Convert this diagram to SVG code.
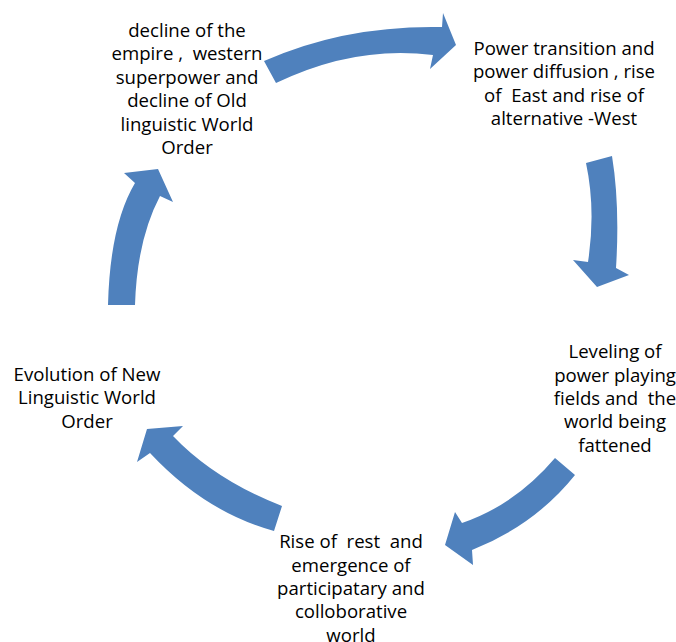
<svg xmlns="http://www.w3.org/2000/svg" width="676" height="642" viewBox="0 0 676 642">
<style>
.t{font-family:"Open Sans","Liberation Sans",sans-serif;font-size:18.6px;fill:#000;text-anchor:middle;white-space:pre}
.a{fill:#4F81BD;stroke:none}
</style>
<defs>
<clipPath id="clipTL"><rect x="0" y="0" width="263" height="642"/></clipPath>
</defs>
<rect width="676" height="642" fill="#fff"/>
<g id="connectors">
<path class="a" d="M 264 61 Q 345 25 442 27 L 443 13 L 456 45 L 430 69 L 433 55 Q 355 45 276 83 Z"/>
<path class="a" d="M 586 163 Q 596 210 588 262 L 573 260 L 597 287 L 629 275 L 616 268 Q 620 205 612 156 Z"/>
<path class="a" d="M 555 458 Q 515 505 462 523 L 455 512 L 445 545 L 473 565 L 472 550 Q 535 525 575 475 Z"/>
<path class="a" d="M 282 506 Q 215 480 173 436 L 183 426 L 147 429 L 137 462 L 150 453 Q 205 512 274 531 Z"/>
<path class="a" d="M 108 305 Q 110 225 135 183 L 124 173 L 158 169 L 173 202 L 160 196 Q 137 240 135 305 Z"/>
</g>
<g id="node-decline" clip-path="url(#clipTL)">
<text class="t" x="187" y="37">decline of the</text>
<text class="t" x="187" y="60.4">empire ,  western</text>
<text class="t" x="187" y="83.8">superpower and</text>
<text class="t" x="187" y="107.2">decline of Old</text>
<text class="t" x="187" y="130.6">linguistic World</text>
<text class="t" x="187" y="154">Order</text>
</g>
<g id="node-power">
<text class="t" x="564" y="55">Power transition and</text>
<text class="t" x="564" y="78.3">power diffusion , rise</text>
<text class="t" x="564" y="101.7">of  East and rise of</text>
<text class="t" x="564" y="125">alternative -West</text>
</g>
<g id="node-leveling">
<text class="t" x="615" y="358">Leveling of</text>
<text class="t" x="615" y="381.5">power playing</text>
<text class="t" x="615" y="405">fields and  the</text>
<text class="t" x="615" y="428.3">world being</text>
<text class="t" x="615" y="451.7">fattened</text>
</g>
<g id="node-rise">
<text class="t" x="351" y="548.3">Rise of  rest  and</text>
<text class="t" x="351" y="571.7">emergence of</text>
<text class="t" x="351" y="595">participatary and</text>
<text class="t" x="351" y="618.3">colloborative</text>
<text class="t" x="351" y="641.7">world</text>
</g>
<g id="node-evolution">
<text class="t" x="87" y="381">Evolution of New</text>
<text class="t" x="87" y="404.3">Linguistic World</text>
<text class="t" x="87" y="427.6">Order</text>
</g>
</svg>
